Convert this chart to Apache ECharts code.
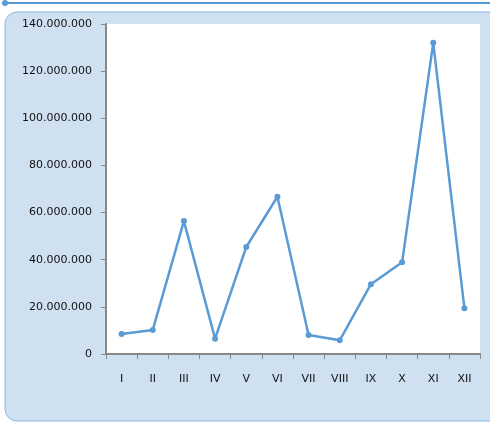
<!DOCTYPE html>
<html>
<head>
<meta charset="utf-8">
<script src="https://cdn.jsdelivr.net/npm/echarts@6/dist/echarts.min.js"></script>
<style>html,body{margin:0;padding:0;background:#fff;}#c{width:490px;height:423px;}</style>
</head>
<body>
<div id="c"></div>
<script>
var categories = ['I','II','III','IV','V','VI','VII','VIII','IX','X','XI','XII'];
var values = [8500000, 10200000, 56400000, 6500000, 45400000, 66700000, 8100000, 5800000, 29600000, 38900000, 132000000, 19400000];
var yMax = 140000000;
var yInterval = 20000000;

function fmt(v){
  return String(v).replace(/\B(?=(\d{3})+(?!\d))/g, '.');
}

var chart = echarts.init(document.getElementById('c'), null, {renderer:'canvas'});
chart.setOption({
  animation: false,
  graphic: [
    {type:'rect', z:-10, shape:{x:5, y:12, width:520, height:409, r:12},
     style:{fill:'#cfe0f1', stroke:'#86b6e2', lineWidth:1}},
    {type:'line', z:-10, shape:{x1:5, y1:3, x2:490, y2:3},
     style:{stroke:'#5b9bd5', lineWidth:2}},
    {type:'circle', z:-10, shape:{cx:5, cy:3, r:3},
     style:{fill:'#5b9bd5'}}
  ],
  grid: {left:106, top:24, right:10, bottom:69, show:true, backgroundColor:'#ffffff', borderWidth:0},
  xAxis: {
    type:'category', data:categories, boundaryGap:true,
    axisLine:{lineStyle:{color:'#888888', width:2}},
    axisTick:{show:true, length:5, lineStyle:{color:'#888888'}},
    axisLabel:{margin:20, color:'#111111', fontFamily:'DejaVu Sans', fontSize:11}
  },
  yAxis: {
    type:'value', min:0, max:yMax, interval:yInterval,
    axisLine:{show:true, lineStyle:{color:'#888888', width:2}},
    axisTick:{show:true, length:5, lineStyle:{color:'#888888'}},
    splitLine:{show:false},
    axisLabel:{margin:14, color:'#111111', fontFamily:'DejaVu Sans', fontSize:11, formatter:fmt}
  },
  series: [{
    type:'line', data:values,
    lineStyle:{color:'#5b9bd5', width:2.5},
    itemStyle:{color:'#5b9bd5'},
    symbol:'circle', symbolSize:6, showSymbol:true
  }]
});
</script>
</body>
</html>
